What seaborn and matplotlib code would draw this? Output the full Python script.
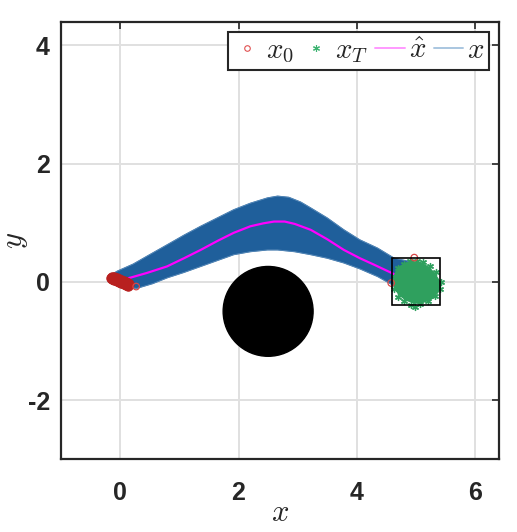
import matplotlib

matplotlib.use("Agg")
import matplotlib.pyplot as plt
import numpy as np
import pandas as pd
import seaborn as sns
from matplotlib.lines import Line2D
from matplotlib.patches import Circle, Rectangle

# mean trajectory (x hat)
mean_x = [0.10, 0.45, 0.79, 1.08, 1.36, 1.64, 1.92, 2.20, 2.42, 2.60, 2.78, 2.95, 3.22, 3.50, 3.78, 4.05, 4.29, 4.63, 5.00]
mean_y = [0.05, 0.15, 0.26, 0.40, 0.54, 0.69, 0.83, 0.94, 0.99, 1.02, 1.02, 0.98, 0.88, 0.72, 0.54, 0.40, 0.29, 0.13, 0.00]

# envelope of the sampled trajectories (x)
upper_x = [-0.20, -0.05, 0.22, 0.50, 0.80, 1.08, 1.36, 1.64, 1.92, 2.20, 2.49, 2.66, 2.85, 3.05, 3.22, 3.50, 3.78, 4.05, 4.35, 4.63, 4.95]
upper_y = [0.09, 0.18, 0.30, 0.46, 0.63, 0.79, 0.94, 1.08, 1.22, 1.33, 1.42, 1.45, 1.43, 1.35, 1.25, 1.08, 0.88, 0.71, 0.57, 0.40, 0.33]
lower_x = [-0.20, 0.00, 0.28, 0.55, 0.80, 1.08, 1.36, 1.64, 1.92, 2.20, 2.49, 2.66, 2.95, 3.22, 3.50, 3.78, 4.05, 4.35, 4.60, 4.80, 5.00]
lower_y = [0.03, -0.08, -0.11, -0.03, 0.07, 0.16, 0.26, 0.36, 0.46, 0.51, 0.54, 0.54, 0.51, 0.46, 0.40, 0.32, 0.22, 0.09, -0.05, -0.22, -0.36]

# initial states x0: dense cluster near the origin, plus a few stray ones
x0_x = [-0.16, -0.12, -0.08, -0.04, 0.00, 0.04, 0.08, 0.12, 0.15,
        -0.14, -0.10, -0.06, -0.02, 0.02, 0.06, 0.10, 0.13,
        -0.14, -0.10, -0.06, -0.02, 0.02, 0.06, 0.10, 0.13]
x0_y = [0.07, 0.055, 0.04, 0.025, 0.01, -0.005, -0.02, -0.035, -0.045,
        0.09, 0.075, 0.06, 0.045, 0.03, 0.015, 0.00, -0.015,
        0.04, 0.025, 0.01, -0.005, -0.02, -0.035, -0.05, -0.065]
x0_stray_x = [0.27, 4.97, 4.58]
x0_stray_y = [-0.08, 0.41, -0.02]

# terminal states xT: outline of the dense cloud and its loose edge points
cloud_x = [4.66, 4.72, 4.82, 4.95, 5.08, 5.20, 5.30, 5.37, 5.40, 5.36, 5.27, 5.13, 4.98, 4.84, 4.72, 4.65, 4.63]
cloud_y = [0.14, 0.24, 0.30, 0.33, 0.31, 0.24, 0.14, 0.03, -0.06, -0.17, -0.27, -0.33, -0.35, -0.30, -0.21, -0.10, 0.02]
xT_x = [4.70, 4.80, 4.90, 5.02, 5.12, 5.24, 5.33, 5.42, 5.40, 5.32, 5.20, 5.06, 4.92, 4.80, 4.69, 4.62, 4.64, 4.98]
xT_y = [0.24, 0.31, 0.35, 0.36, 0.33, 0.26, 0.17, 0.00, -0.12, -0.24, -0.32, -0.38, -0.39, -0.33, -0.25, -0.12, 0.08, -0.42]

obstacle_center = (2.5, -0.5)
obstacle_radius = 0.76
target_lo = (4.6, -0.4)
target_size = 0.8

x_ticks = [0, 2, 4, 6]
y_ticks = [-2, 0, 2, 4]

BLUE = "#1f5f9b"
GREEN = "#2fa05e"
RED = "#b8201f"

sns.set_theme(style="whitegrid")
plt.rcParams["font.family"] = ["Liberation Sans", "DejaVu Sans"]
plt.rcParams["mathtext.fontset"] = "cm"

fig = plt.figure(figsize=(5.17, 5.32), dpi=100)
ax = fig.add_axes([0.118, 0.137, 0.847, 0.822])
ax.set_facecolor("white")

# trajectory band
band_x = np.concatenate([upper_x, lower_x[::-1]])
band_y = np.concatenate([upper_y, lower_y[::-1]])
ax.fill(band_x, band_y, color=BLUE, lw=0.8, ec=BLUE, zorder=2)
ax.plot(upper_x, upper_y, color="#6f9cc6", lw=0.6, alpha=0.7, zorder=2)
ax.plot(lower_x, lower_y, color="#6f9cc6", lw=0.6, alpha=0.7, zorder=2)

mean_df = pd.DataFrame({"x": mean_x, "y": mean_y})
sns.lineplot(data=mean_df, x="x", y="y", sort=False, color="#ff00ff", lw=1.6, ax=ax, zorder=3)

# terminal cloud
ax.fill(cloud_x, cloud_y, color=GREEN, ec=GREEN, lw=2, zorder=4)
sns.scatterplot(x=xT_x, y=xT_y, marker=(6, 2, 0), s=18, color=GREEN, edgecolor=GREEN, linewidth=1.0, ax=ax, zorder=4)

# initial states
sns.scatterplot(x=x0_x, y=x0_y, marker="o", s=45, color=RED, edgecolor=RED, linewidth=0.8, ax=ax, zorder=5)
sns.scatterplot(x=x0_stray_x, y=x0_stray_y, marker="o", s=22, facecolor="none", edgecolor="#d84848", linewidth=0.9, ax=ax, zorder=5)

ax.add_patch(Circle(obstacle_center, obstacle_radius, color="black", zorder=6))
ax.add_patch(Rectangle(target_lo, target_size, target_size, fill=False, ec="black", lw=1.2, zorder=7))

ax.set_xlim(-1, 6.4)
ax.set_ylim(-3, 4.4)
ax.set_xticks(x_ticks)
ax.set_yticks(y_ticks)
ax.set_xticklabels([str(t) for t in x_ticks], fontsize=18, fontweight="bold", color="#262626")
ax.set_yticklabels([str(t) for t in y_ticks], fontsize=18, fontweight="bold", color="#262626")
ax.tick_params(direction="in", top=True, right=True, length=5, width=1.2, color="#262626")
ax.tick_params(axis="x", pad=16)
ax.tick_params(axis="y", pad=8)
ax.grid(True, color="#e0e0e0", lw=1.4)
for sp in ax.spines.values():
    sp.set_color("#262626")
    sp.set_linewidth(1.6)
    sp.set_zorder(10)

ax.set_xlabel("$x$", fontsize=22)
ax.set_ylabel("$y$", fontsize=22)
ax.xaxis.set_label_coords(0.5, -0.09)
ax.yaxis.set_label_coords(-0.07, 0.5)

handles = [
    Line2D([], [], ls="none", marker="o", ms=4, mfc="none", mec="#e05050", mew=0.8),
    Line2D([], [], ls="none", marker=(6, 2, 0), ms=5, mec="#3cb371", color="#3cb371", mew=0.8),
    Line2D([], [], color="#ff99ff", lw=1.4),
    Line2D([], [], color="#a9c6e0", lw=1.4),
]
leg = ax.legend(handles, ["$x_0$", "$x_T$", r"$\hat{x}$", "$x$"], loc="upper right", ncol=4,
                fontsize=21, frameon=True, fancybox=False, framealpha=1, edgecolor="#262626",
                handlelength=1.0, handletextpad=0.15, columnspacing=0.25, borderpad=0.15,
                borderaxespad=0.35)
leg.get_frame().set_linewidth(1.5)
leg.set_zorder(20)

fig.savefig("out.png", dpi=100)
